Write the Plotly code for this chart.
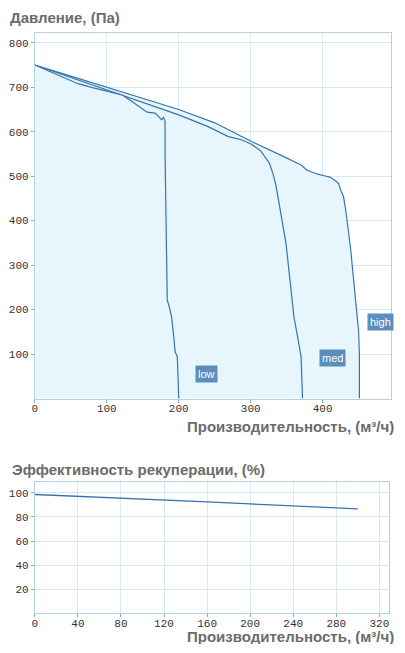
import plotly.graph_objects as go

# pressure curves, Па vs м3/ч
high_x = [0, 0, 50, 100, 163, 200, 250, 287, 301, 346, 370, 378, 392, 402, 410, 416, 422, 425, 429, 432, 439, 447, 450, 451, 451]
high_y = [0, 750, 725, 700, 670, 650, 620, 589, 578, 544, 525, 514, 505, 501, 498, 492, 484, 469, 454, 424, 334, 200, 150, 100, 0]

med_x = [0, 50, 100, 163, 200, 240, 269, 287, 301, 314, 321, 326, 331, 335, 341, 349, 355, 360, 365, 370, 372]
med_y = [750, 722, 694, 660, 638, 612, 589, 582, 572, 557, 540, 529, 505, 480, 424, 349, 260, 184, 140, 94, 0]

low_x = [0, 20, 40, 60, 80, 100, 121, 135, 147, 156, 167, 172, 176, 179, 181, 181, 182, 183, 184, 187, 190, 193, 195, 198, 199, 200]
low_y = [750, 736, 721, 708, 699, 691, 683, 668, 654, 644, 642, 634, 627, 632, 623, 548, 420, 334, 222, 205, 184, 140, 105, 94, 50, 0]

# heat recovery efficiency, %
eff_x = [0, 40, 80, 120, 160, 200, 240, 280, 300]
eff_y = [98.6, 97.2, 95.8, 94.2, 92.5, 90.8, 89.2, 87.5, 86.7]

line_col = '#3574ae'
fill_col = '#e6f6fc'
grid_col = '#d6e9f1'
axis_col = '#b5d2de'

# page has 8px body margin, so figure is smaller and coords are page pixels
W, H = 389, 636
def fx(p):
    return (p - 8) / W
def fy(p):
    return 1 - (p - 8) / H

fig = go.Figure()
for xs, ys in [(high_x, high_y), (med_x, med_y), (low_x, low_y)]:
    fig.add_trace(go.Scatter(x=xs, y=ys, mode='lines', fill='tozeroy', fillcolor=fill_col,
                             line=dict(color=line_col, width=1.2), xaxis='x', yaxis='y'))
fig.add_trace(go.Scatter(x=eff_x, y=eff_y, mode='lines', line=dict(color=line_col, width=1.4),
                         xaxis='x2', yaxis='y2'))

tick_font = dict(family='Liberation Mono, Courier New, monospace', size=11, color='#333333')
ax = dict(showgrid=True, gridcolor=grid_col, gridwidth=1, zeroline=False, showline=True,
          linecolor=axis_col, linewidth=1, mirror=True, ticks='outside', ticklen=3,
          tickcolor='#7fb0d0', tickfont=tick_font, fixedrange=True)

fig.update_layout(
    width=W, height=H, margin=dict(l=0, r=0, t=0, b=0),
    paper_bgcolor='white', plot_bgcolor='white', showlegend=False,
    xaxis=dict(ax, domain=[fx(32), fx(391)], range=[0, 495], tickvals=[0, 100, 200, 300, 400],
               ticklabelstandoff=-4),
    yaxis=dict(ax, domain=[fy(398.5), fy(33)], range=[0, 822],
               tickvals=[100, 200, 300, 400, 500, 600, 700, 800]),
    xaxis2=dict(ax, domain=[fx(32), fx(389)], range=[0, 329], tickvals=[0, 40, 80, 120, 160, 200, 240, 280, 320],
                anchor='y2', ticklabelstandoff=-4),
    yaxis2=dict(ax, domain=[fy(613.3), fy(482)], range=[0, 109],
                tickvals=[20, 40, 60, 80, 100], anchor='x2'),
)

title_font = dict(family='Liberation Sans', size=15, color='#6b6b6b')
for txt, x, y, anc in [('<b>Давление, (Па)</b>', 5, 17, 'left'),
                        ('<b>Производительность, (м³/ч)</b>', 396, 426, 'right'),
                        ('<b>Эффективность рекуперации, (%)</b>', 7, 469, 'left'),
                        ('<b>Производительность, (м³/ч)</b>', 396, 636, 'right')]:
    fig.add_annotation(text=txt, xref='paper', yref='paper', x=fx(x), y=fy(y),
                       xanchor=anc, yanchor='middle', showarrow=False, font=title_font)

# speed labels
for txt, x, y in [('low', 238, 56), ('med', 413, 90), ('high', 481, 173)]:
    fig.add_annotation(text=txt, x=x, y=y, xref='x', yref='y', showarrow=False,
                       bgcolor='#5b8ebb', borderpad=2,
                       font=dict(family='Liberation Sans', size=11, color='white'))

fig.write_html("out.html")
